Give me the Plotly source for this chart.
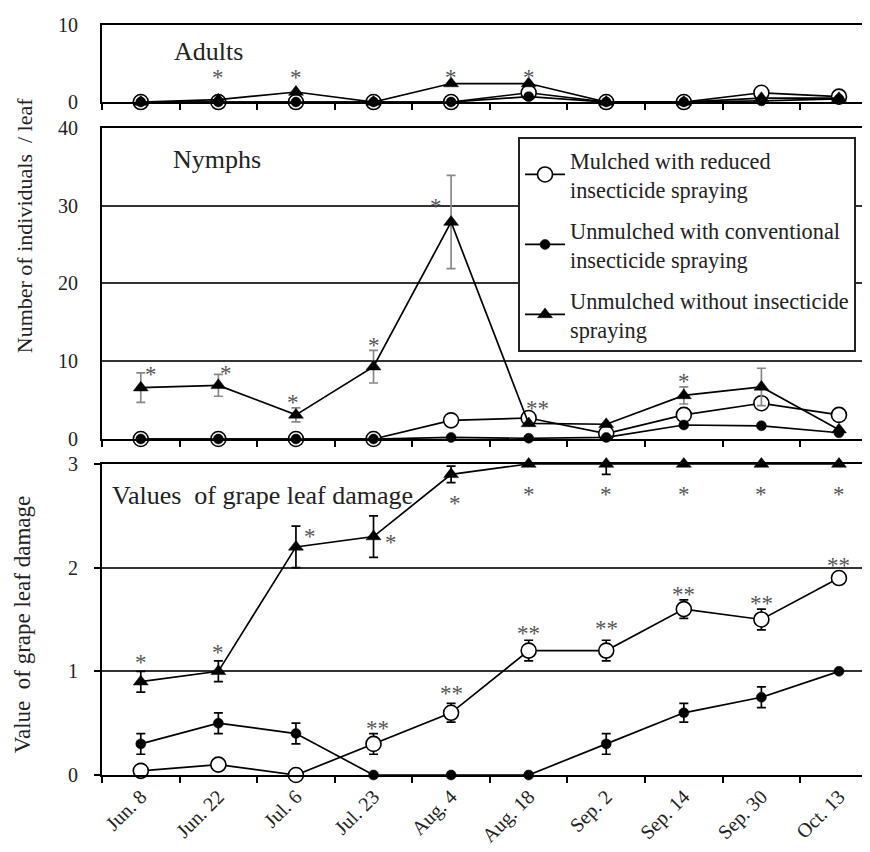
import plotly.graph_objects as go

# ---------------- data ----------------
dates = ["Jun. 8", "Jun. 22", "Jul. 6", "Jul. 23", "Aug. 4",
         "Aug. 18", "Sep. 2", "Sep. 14", "Sep. 30", "Oct. 13"]

series_names = ["Mulched with reduced<br>insecticide spraying",
                "Unmulched with conventional<br>insecticide spraying",
                "Unmulched without insecticide<br>spraying"]

# Adults (number / leaf)
adults_mulched = [0, 0, 0, 0, 0, 1.2, 0, 0, 1.2, 0.7]
adults_conv = [0, 0, 0, 0, 0, 0.7, 0, 0, 0.15, 0.4]
adults_none = [0, 0.3, 1.3, 0, 2.4, 2.4, 0, 0, 0.5, 0.5]

# Nymphs (number / leaf)
nymph_mulched = [0, 0, 0, 0, 2.4, 2.7, 0.7, 3.1, 4.6, 3.1]
nymph_conv = [0, 0, 0, 0, 0.2, 0.1, 0.2, 1.8, 1.7, 0.8]
nymph_none = [6.6, 6.9, 3.1, 9.3, 27.9, 2.0, 1.9, 5.6, 6.7, 1.2]
nymph_none_err = [1.9, 1.4, 0.9, 2.1, 6.0, 0, 0, 1.1, 2.4, 0]

# Grape leaf damage values
damage_mulched = [0.04, 0.1, 0, 0.3, 0.6, 1.2, 1.2, 1.6, 1.5, 1.9]
damage_mulched_err = [0, 0, 0, 0.1, 0.09, 0.1, 0.1, 0.09, 0.1, 0]
damage_conv = [0.3, 0.5, 0.4, 0, 0, 0, 0.3, 0.6, 0.75, 1.0]
damage_conv_err = [0.1, 0.1, 0.1, 0, 0, 0, 0.1, 0.09, 0.1, 0]
damage_none = [0.9, 1.0, 2.2, 2.3, 2.9, 3, 3, 3, 3, 3]
damage_none_err = [0.1, 0.1, 0.2, 0.2, 0.08, 0, 0.1, 0, 0, 0]

# significance marks: (x index, y value, text)
adults_marks_x = [1, 2, 4, 5]
adults_marks_y = [3.8, 3.8, 3.8, 3.8]
adults_marks_t = ["*", "*", "*", "*"]

nymph_marks_x = [0.13, 1.1, 1.96, 3.0, 3.81, 5.12, 7.0]
nymph_marks_y = [8.9, 9.1, 5.4, 12.7, 30.5, 4.6, 8.0]
nymph_marks_t = ["*", "*", "*", "*", "*", "**", "*"]

damage_none_marks_x = [0, 1, 2.18, 3.23, 4.05, 5, 6, 7, 8, 9]
damage_none_marks_y = [1.13, 1.23, 2.35, 2.29, 2.67, 2.75, 2.75, 2.75, 2.75, 2.75]
damage_mul_marks_x = [3.05, 4.0, 5, 6, 7, 8, 9]
damage_mul_marks_y = [0.5, 0.83, 1.41, 1.46, 1.79, 1.70, 2.07]

FONT = "Liberation Serif, Times New Roman, serif"

fig = go.Figure()


def errs(a):
    return [v if v else None for v in a]


styles = [
    dict(symbol="circle", size=15, color="white", line=dict(color="black", width=1.6)),
    dict(symbol="circle", size=10, color="black", line=dict(color="black", width=0.5)),
    dict(symbol="triangle-up", size=13, color="black", line=dict(color="black", width=0.5)),
]

panels = [
    ("x", "y", [adults_mulched, adults_conv, adults_none], [None, None, None], None, False),
    ("x2", "y2", [nymph_mulched, nymph_conv, nymph_none], [None, None, nymph_none_err], "#888888", True),
    ("x3", "y3", [damage_mulched, damage_conv, damage_none],
     [damage_mulched_err, damage_conv_err, damage_none_err], "black", False),
]

for xa, ya, ser, er, ecol, showleg in panels:
    for i in range(3):
        tr = dict(
            x=dates, y=ser[i], xaxis=xa, yaxis=ya,
            mode="lines+markers", name=series_names[i],
            line=dict(color="black", width=1.7),
            marker=styles[i], cliponaxis=False,
            showlegend=showleg, legendgroup=f"g{i}",
        )
        if er[i] is not None:
            tr["error_y"] = dict(type="data", array=errs(er[i]), visible=True,
                                 color=ecol, thickness=1.7, width=4.5)
        fig.add_trace(go.Scatter(**tr))

ann = []
star_font = dict(family=FONT, size=23, color="#555555")
for xs, ys, ts, xr, yr in [
    (adults_marks_x, adults_marks_y, adults_marks_t, "x", "y"),
    (nymph_marks_x, nymph_marks_y, nymph_marks_t, "x2", "y2"),
    (damage_none_marks_x, damage_none_marks_y, ["*"] * len(damage_none_marks_x), "x3", "y3"),
    (damage_mul_marks_x, damage_mul_marks_y, ["**"] * len(damage_mul_marks_x), "x3", "y3"),
]:
    for x, y, t in zip(xs, ys, ts):
        ann.append(dict(x=x, y=y, xref=xr, yref=yr, text=t, showarrow=False,
                        font=star_font, xanchor="center", yanchor="middle", yshift=-5))

label_font = dict(family=FONT, size=26, color="#222222")
ann.append(dict(x=0.87, y=6.6, xref="x", yref="y", text="Adults", showarrow=False,
                font=label_font, xanchor="center", yanchor="middle"))
ann.append(dict(x=0.98, y=35.9, xref="x2", yref="y2", text="Nymphs", showarrow=False,
                font=label_font, xanchor="center", yanchor="middle"))
ann.append(dict(x=-0.396, y=2.7, xref="x3", yref="y3", text="Values  of grape leaf damage",
                showarrow=False, font=label_font, xanchor="left", yanchor="middle"))

title_font = dict(family=FONT, size=22, color="#222222")
ann.append(dict(x=-0.1016, y=0.733, xref="paper", yref="paper",
                text="Number of individuals  / leaf", textangle=-90, showarrow=False,
                font=title_font, xanchor="center", yanchor="middle"))
ann.append(dict(x=-0.104, y=0.2, xref="paper", yref="paper",
                text="Value  of grape leaf damage", textangle=-90, showarrow=False,
                font=dict(title_font, size=23), xanchor="center", yanchor="middle"))

tick_font = dict(family=FONT, size=20, color="#222222")
xcommon = dict(type="category", range=[-0.5, 9.4], tickson="boundaries",
               ticks="outside", ticklen=6, tickwidth=1.5, tickcolor="black",
               showline=True, linecolor="black", linewidth=2, mirror=True,
               showgrid=False, zeroline=False, automargin=False, fixedrange=True)
ycommon = dict(showline=True, linecolor="black", linewidth=2, zeroline=False,
               tickfont=tick_font, automargin=False, ticklabelstandoff=18)

# page body has an 8px margin: the figure is sized so the plot lands where the reference has it
fig.update_layout(
    width=862, height=844,
    margin=dict(l=94, r=0, t=17, b=77),
    template="none",
    paper_bgcolor="white", plot_bgcolor="white",
    font=dict(family=FONT, color="#222222"),
    xaxis=dict(xcommon, domain=[0, 1], anchor="y", showticklabels=False),
    xaxis2=dict(xcommon, domain=[0, 1], anchor="y2", showticklabels=False),
    xaxis3=dict(xcommon, domain=[0, 1], anchor="y3", showticklabels=True,
                tickangle=-45, tickfont=tick_font),
    yaxis=dict(ycommon, domain=[0.8973, 1], anchor="x", range=[0, 10],
               tickvals=[0, 10], showgrid=False),
    yaxis2=dict(ycommon, domain=[0.448, 0.8627], anchor="x2", range=[0, 40],
                tickvals=[0, 10, 20, 30, 40], showgrid=True, gridcolor="#333333", gridwidth=1.5),
    yaxis3=dict(ycommon, domain=[0, 0.4147], anchor="x3", range=[0, 3],
                tickvals=[0, 1, 2, 3], showgrid=True, gridcolor="#333333", gridwidth=1.5,
                ticks="outside", ticklen=6, tickcolor="black", tickwidth=1.5,
                ticklabelstandoff=12),
    legend=dict(x=0.5417, y=0.8507, xanchor="left", yanchor="top",
                bgcolor="white", bordercolor="#222222", borderwidth=2,
                font=dict(family=FONT, size=22.3, color="#222222"),
                tracegroupgap=9, itemwidth=40),
    annotations=ann,
)

fig.write_html("out.html")
